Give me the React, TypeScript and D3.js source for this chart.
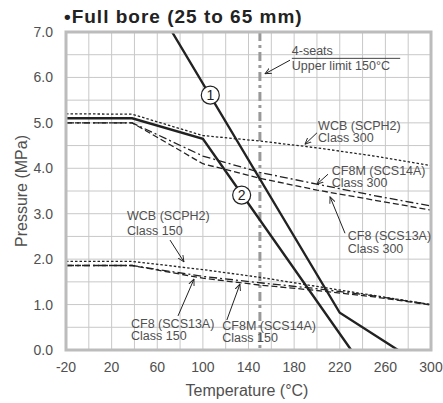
import * as d3 from 'd3';

const W = 443, H = 403;
const M = { top: 32, right: 12, bottom: 53, left: 66 };

const X_TICKS = [-20, 20, 60, 100, 140, 180, 220, 260, 300];
const Y_TICKS = [0, 1, 2, 3, 4, 5, 6, 7];

// seat ratings (solid)
const LINE1: [number, number][] = [[73, 7.0], [220, 0.82], [271, 0]];
const LINE2: [number, number][] = [[-20, 5.1], [38, 5.1], [100, 4.65], [230, 0]];

// body ratings, class 300
const WCB300: [number, number][] = [[-20, 5.2], [38, 5.19], [100, 4.72], [150, 4.6], [200, 4.45], [250, 4.27], [300, 4.06]];
const CF8M300: [number, number][] = [[-20, 5.0], [38, 5.0], [100, 4.27], [150, 3.91], [200, 3.65], [250, 3.4], [300, 3.17]];
const CF8300: [number, number][] = [[-20, 5.0], [38, 5.0], [100, 4.1], [150, 3.78], [200, 3.52], [250, 3.3], [300, 3.08]];

// body ratings, class 150
const WCB150: [number, number][] = [[-20, 1.95], [38, 1.95], [100, 1.77], [150, 1.6], [200, 1.4], [250, 1.2], [300, 1.0]];
const CF8M150: [number, number][] = [[-20, 1.86], [38, 1.86], [100, 1.62], [150, 1.48], [200, 1.35], [250, 1.19], [300, 1.0]];
const CF8150: [number, number][] = [[-20, 1.86], [38, 1.86], [100, 1.58], [150, 1.43], [200, 1.31], [250, 1.17], [300, 0.99]];

const SEAT_LIMIT = 150;

// annotations: text lines at (T, P baseline), arrow from -> to
const NOTES = [
  { t: 178, p: [6.49, 6.16], lines: ['4-seats', 'Upper limit 150°C'], arrow: [[176.4, 6.38], [154.5, 6.08]] },
  { t: 201, p: [4.84, 4.58], lines: ['WCB (SCPH2)', 'Class 300'], arrow: [[200, 4.78], [189.5, 4.53]] },
  { t: 213, p: [3.85, 3.58], lines: ['CF8M (SCS14A)', 'Class 300'], arrow: [[209.7, 3.87], [200, 3.65]] },
  { t: 227, p: [2.42, 2.13], lines: ['CF8 (SCS13A)', 'Class 300'], arrow: [[224.6, 2.57], [211.5, 3.37]] },
  { t: 33.5, p: [2.86, 2.53], lines: ['WCB (SCPH2)', 'Class 150'], arrow: [[71.2, 2.42], [83.4, 1.94]] },
  { t: 37, p: [0.48, 0.23], lines: ['CF8 (SCS13A)', 'Class 150'], arrow: [[78.2, 0.75], [92.2, 1.56]] },
  { t: 117, p: [0.44, 0.18], lines: ['CF8M (SCS14A)', 'Class 150'], arrow: [[121, 0.66], [132.5, 1.45]] },
];
const MARKS = [{ t: 106.5, p: 5.61, label: '1' }, { t: 134, p: 3.41, label: '2' }];

export default function App() {
  const x = d3.scaleLinear().domain([-20, 300]).range([M.left, W - M.right]);
  const y = d3.scaleLinear().domain([0, 7]).range([H - M.bottom, M.top]);
  const line = d3.line<[number, number]>().x(d => x(d[0])).y(d => y(d[1]));
  const font = '"Liberation Sans", Arial, sans-serif';
  const grey = '#505050';

  const series = [
    { d: WCB300, dash: '2.5,2' }, { d: CF8M300, dash: '8,3,2,3' }, { d: CF8300, dash: '6,3' },
    { d: WCB150, dash: '2.5,2' }, { d: CF8M150, dash: '8,3,2,3' }, { d: CF8150, dash: '6,3' },
  ];

  return (
    <div style={{ position: 'absolute', left: 0, top: 0 }}>
      <svg width={W} height={H} style={{ display: 'block', fontFamily: font }}>
        <defs>
          <clipPath id="plot"><rect x={M.left} y={M.top} width={W - M.left - M.right} height={H - M.top - M.bottom} /></clipPath>
          <marker id="ah" viewBox="0 0 10 10" refX="9" refY="5" markerWidth="7" markerHeight="7" orient="auto">
            <path d="M0,1 L9,5 L0,9" fill="none" stroke="#222" strokeWidth="1.3" />
          </marker>
        </defs>
        <rect width={W} height={H} fill="#fff" />
        <text x={64} y={23} fontSize={19} fontWeight="bold" letterSpacing={1} fill="#222">•Full bore (25 to 65 mm)</text>
        {d3.range(-20, 301, 20).map(v => (
          <line key={'gx' + v} x1={x(v)} x2={x(v)} y1={y(0)} y2={y(7)} stroke="#c8c8c8" strokeWidth={1} />
        ))}
        {d3.range(0, 7.01, 0.5).map(v => (
          <line key={'gy' + v} x1={x(-20)} x2={x(300)} y1={y(v)} y2={y(v)} stroke="#c8c8c8" strokeWidth={1} />
        ))}
        <line x1={x(SEAT_LIMIT)} x2={x(SEAT_LIMIT)} y1={y(7)} y2={y(0)} stroke="#999" strokeWidth={3} strokeDasharray="9,4,3,4" />
        <g clipPath="url(#plot)" fill="none" stroke="#222">
          {series.map((s, i) => <path key={i} d={line(s.d) || ''} strokeWidth={1.3} strokeDasharray={s.dash} />)}
          <path d={line(LINE1) || ''} strokeWidth={2.4} />
          <path d={line(LINE2) || ''} strokeWidth={2.4} />
        </g>
        <rect x={x(-20)} y={y(7)} width={x(300) - x(-20)} height={y(0) - y(7)} fill="none" stroke="#bcbcbc" strokeWidth={3} />
        {MARKS.map(m => (
          <g key={m.label}>
            <circle cx={x(m.t)} cy={y(m.p)} r={9} fill="#fff" stroke="#222" strokeWidth={1.2} />
            <text x={x(m.t)} y={y(m.p) + 5} fontSize={14} textAnchor="middle" fill="#222">{m.label}</text>
          </g>
        ))}
        {NOTES.map((n, i) => (
          <g key={i}>
            {n.lines.map((l, j) => (
              <text key={j} x={x(n.t)} y={y(n.p[j])} fontSize={12.5} fill={grey}>{l}</text>
            ))}
            <line x1={x(n.arrow[0][0])} y1={y(n.arrow[0][1])} x2={x(n.arrow[1][0])} y2={y(n.arrow[1][1])}
              stroke="#222" strokeWidth={1} markerEnd="url(#ah)" />
          </g>
        ))}
        <line x1={x(178)} x2={x(273)} y1={y(6.42)} y2={y(6.42)} stroke="#444" strokeWidth={1} />
        {Y_TICKS.map(v => (
          <text key={'yt' + v} x={M.left - 13} y={y(v) + 5} fontSize={14} textAnchor="end" fill={grey}>{v.toFixed(1)}</text>
        ))}
        {X_TICKS.map(v => (
          <text key={'xt' + v} x={x(v)} y={372} fontSize={14} textAnchor="middle" fill={grey}>{v}</text>
        ))}
        <text x={247} y={396} fontSize={16} textAnchor="middle" fill={grey}>Temperature (°C)</text>
        <text transform={`translate(27,${(y(0) + y(7)) / 2}) rotate(-90)`} fontSize={16} textAnchor="middle" fill={grey}>Pressure (MPa)</text>
      </svg>
    </div>
  );
}
